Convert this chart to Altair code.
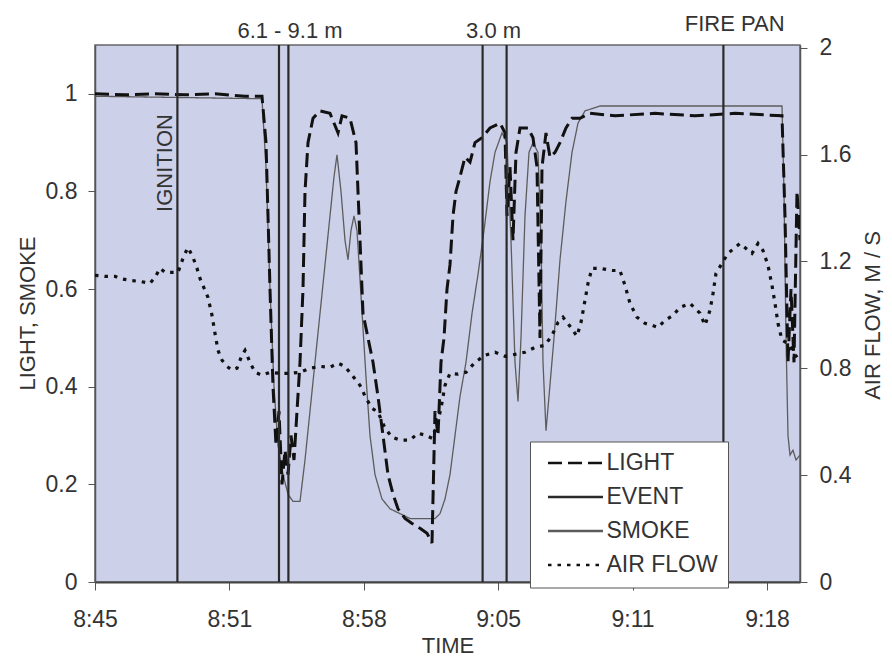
import json
import pandas as pd
import altair as alt

FONT = "Liberation Sans"
TXT = "#333333"

# ---- axis ticks (minutes after 8:45) ----
tick_labels = ["8:45", "8:51", "8:58", "9:05", "9:11", "9:18"]
tick_step = 6.72
x_max = 35.25

series_names = ["LIGHT", "EVENT", "SMOKE", "AIR FLOW"]

# ---- LIGHT (left axis) ----
light_min = [0, 1.5, 3.0, 4.5, 6.0, 7.5, 8.35, 8.55, 8.75, 8.9, 9.05, 9.2, 9.35, 9.5, 9.65,
             9.8, 9.95, 10.1, 10.25, 10.4, 10.5, 10.65, 10.9, 11.25, 11.75, 12.15, 12.35,
             12.75, 13.05, 13.25, 13.4, 13.65, 13.9, 14.15, 14.4, 14.65, 14.9, 15.15, 15.5,
             15.85, 16.25, 16.6, 16.85, 17.0, 17.15, 17.3, 17.45, 17.6, 17.75, 17.9, 18.05,
             18.25, 18.5, 18.75, 19.0, 19.35, 19.75, 20.25, 20.5, 20.6, 20.75, 20.9, 21.05,
             21.25, 21.65, 21.9, 22.1, 22.25, 22.35, 22.55, 22.75, 23.0, 23.25, 23.55, 23.85,
             24.25, 24.75, 26.0, 28.0, 30.0, 32.0, 34.35, 34.5, 34.65, 34.8, 34.95, 35.1, 35.25]
light_val = [1.0, 0.998, 1.0, 0.998, 1.0, 0.995, 0.995, 0.9, 0.6, 0.4, 0.28, 0.35, 0.2, 0.27, 0.22,
             0.3, 0.25, 0.35, 0.45, 0.6, 0.8, 0.9, 0.95, 0.965, 0.96, 0.92, 0.955,
             0.95, 0.9, 0.7, 0.55, 0.5, 0.45, 0.38, 0.3, 0.22, 0.18, 0.15, 0.13,
             0.12, 0.11, 0.1, 0.08, 0.35, 0.3, 0.45, 0.5, 0.6, 0.65, 0.75, 0.8,
             0.83, 0.87, 0.86, 0.9, 0.91, 0.93, 0.94, 0.92, 0.75, 0.85, 0.7, 0.88,
             0.93, 0.93, 0.91, 0.85, 0.5, 0.85, 0.92, 0.87, 0.88, 0.9, 0.93, 0.95,
             0.95, 0.96, 0.955, 0.96, 0.955, 0.96, 0.955, 0.75, 0.45, 0.6, 0.45, 0.8, 0.7]

# ---- SMOKE (left axis) ----
smoke_min = [0, 8.35, 8.55, 8.75, 8.95, 9.15, 9.4, 9.65, 9.9, 10.25, 10.5, 10.75, 11.0, 11.25,
             11.5, 11.75, 11.95, 12.1, 12.3, 12.5, 12.65, 12.8, 12.95, 13.1, 13.25, 13.4, 13.55,
             13.75, 14.0, 14.35, 14.75, 15.25, 15.75, 16.25, 17.0, 17.25, 17.5, 17.75, 18.0,
             18.25, 18.55, 18.85, 19.15, 19.45, 19.75, 20.0, 20.35, 20.6, 20.8, 21.0, 21.15,
             21.3, 21.5, 21.7, 21.9, 22.15, 22.3, 22.4, 22.55, 22.7, 22.95, 23.25, 23.55, 23.85,
             24.15, 24.5, 25.25, 27.75, 30.25, 32.75, 34.35, 34.45, 34.55, 34.65, 34.75, 34.9,
             35.05, 35.25]
smoke_val = [0.995, 0.99, 0.85, 0.6, 0.4, 0.28, 0.22, 0.18, 0.165, 0.165, 0.25, 0.35, 0.45, 0.55,
             0.65, 0.75, 0.83, 0.875, 0.8, 0.7, 0.66, 0.72, 0.75, 0.72, 0.62, 0.52, 0.42,
             0.3, 0.22, 0.17, 0.15, 0.14, 0.13, 0.13, 0.13, 0.14, 0.17, 0.22, 0.3,
             0.38, 0.45, 0.55, 0.63, 0.72, 0.82, 0.88, 0.92, 0.9, 0.7, 0.45, 0.37,
             0.5, 0.75, 0.88, 0.9, 0.88, 0.7, 0.45, 0.31, 0.38, 0.5, 0.66, 0.78, 0.88,
             0.94, 0.965, 0.975, 0.975, 0.975, 0.975, 0.975, 0.8, 0.5, 0.3, 0.26, 0.27,
             0.25, 0.26]

# ---- AIR FLOW (right axis, m/s) ----
air_min = [0, 0.5, 1.0, 1.25, 1.75, 2.25, 2.75, 3.0, 3.25, 3.5, 4.15, 4.45, 4.65, 4.9, 5.1, 5.25,
           5.5, 5.65, 5.85, 6.0, 6.15, 6.35, 6.6, 6.85, 7.1, 7.35, 7.5, 7.75, 8.0, 8.35, 8.75,
           9.25, 9.75, 10.25, 10.75, 11.25, 11.75, 12.15, 12.5, 12.85, 13.25, 13.55, 13.85,
           14.15, 14.5, 14.85, 15.25, 15.75, 16.15, 16.5, 16.85, 17.1, 17.3, 17.5, 17.75,
           18.15, 18.55, 19.0, 19.5, 20.0, 20.5, 21.0, 21.5, 22.0, 22.5, 22.85, 23.15, 23.4,
           23.75, 24.1, 24.3, 24.5, 24.65, 24.85, 25.25, 25.85, 26.25, 26.5, 26.75, 27.1, 27.5,
           27.85, 28.15, 28.5, 28.9, 29.25, 29.75, 30.25, 30.5, 30.75, 30.9, 31.05, 31.65,
           32.25, 32.85, 33.15, 33.4, 33.65, 33.85, 34.0, 34.15, 34.35, 34.65, 35.1]
air_val = [1.148, 1.144, 1.144, 1.136, 1.129, 1.125, 1.118, 1.14, 1.174, 1.159, 1.159, 1.222,
           1.252, 1.215, 1.174, 1.136, 1.092, 1.065, 0.998, 0.931, 0.867, 0.83, 0.807, 0.793,
           0.8, 0.849, 0.867, 0.822, 0.785, 0.774, 0.785, 0.781, 0.781, 0.785, 0.8, 0.807,
           0.804, 0.819, 0.807, 0.774, 0.736, 0.688, 0.65, 0.636, 0.576, 0.542, 0.531, 0.531,
           0.557, 0.55, 0.538, 0.587, 0.65, 0.736, 0.781, 0.778, 0.785, 0.822, 0.849, 0.86,
           0.845, 0.852, 0.86, 0.878, 0.886, 0.923, 0.972, 0.991, 0.957, 0.92, 0.972, 1.054,
           1.118, 1.174, 1.174, 1.166, 1.166, 1.11, 1.043, 0.991, 0.968, 0.961, 0.953, 0.979,
           0.998, 1.028, 1.043, 1.006, 0.961, 1.017, 1.08, 1.155, 1.23, 1.267, 1.23, 1.267,
           1.241, 1.185, 1.11, 1.043, 0.968, 0.905, 0.893, 0.841]

# ---- EVENT markers (minutes) ----
event_min = [4.12, 9.2, 9.67, 19.38, 20.58, 31.42]

# ---- annotations ----
top_labels = ["6.1 - 9.1 m", "3.0 m"]
top_label_min = [9.75, 19.93]
firepan_labels = ["FIRE PAN"]
firepan_min = [31.98]
ignition_labels = ["IGNITION"]
ignition_min = [3.5]

light_df = pd.DataFrame({"minute": light_min, "value": light_val, "series": "LIGHT"})
smoke_df = pd.DataFrame({"minute": smoke_min, "value": smoke_val, "series": "SMOKE"})
air_df = pd.DataFrame({"minute": air_min, "value": air_val, "series": "AIR FLOW"})
event_df = pd.DataFrame({"minute": event_min, "series": "EVENT"})
top_df = pd.DataFrame({"minute": top_label_min, "label": top_labels})
fire_df = pd.DataFrame({"minute": firepan_min, "label": firepan_labels})
ign_df = pd.DataFrame({"minute": ignition_min, "label": ignition_labels})

color_scale = alt.Scale(domain=series_names, range=["#111111", "#2a2a2a", "#5c5c5c", "#111111"])
dash_scale = alt.Scale(domain=series_names, range=[[14, 6], [1, 0], [1, 0], [3.5, 6]])

leg = alt.Legend(
    title=None, orient="none", legendX=435, legendY=396.5,
    fillColor="white", strokeColor="#555555", padding=10, rowPadding=10,
    symbolType="M0,0H6", symbolSize=336, symbolOffset=-3.5, symbolStrokeWidth=2.5,
    labelOffset=47, labelFont=FONT, labelFontSize=23, labelColor=TXT, labelLimit=0,
)

x_axis = alt.Axis(
    values=[round(i * tick_step, 2) for i in range(len(tick_labels))],
    labelExpr=f"{json.dumps(tick_labels)}[round(datum.value / {tick_step})]",
    title="TIME", titleX=352.5, titleY=70, titleBaseline="alphabetic", titleAlign="center",
    tickSize=8, labelPadding=18, domainColor="#444444", domainWidth=2, labelFlush=False,
)
X = alt.X("minute:Q", scale=alt.Scale(domain=[0, x_max], nice=False, zero=False), axis=x_axis)

left_axis = alt.Axis(
    values=[0, 0.2, 0.4, 0.6, 0.8, 1.0], format="~g", title="LIGHT, SMOKE",
    titleX=-67.5, titleY=268, titleAngle=270, titleAlign="center", titleBaseline="middle",
    tickSize=7, labelPadding=11, domainWidth=1.5, labelFlush=False,
)
right_axis = alt.Axis(
    orient="right", values=[0, 0.4, 0.8, 1.2, 1.6, 2.0], format="~g", title="AIR FLOW, M / S",
    titleX=72, titleY=270, titleAngle=270, titleAlign="center", titleBaseline="middle",
    tickSize=7, labelPadding=12, domainWidth=1.5, labelFlush=False,
)

Y_left = alt.Y("value:Q", scale=alt.Scale(domain=[0, 1.1], nice=False, zero=True), axis=left_axis)
C = alt.Color("series:N", scale=color_scale, legend=leg)
D = alt.StrokeDash("series:N", scale=dash_scale, legend=leg)

smoke_layer = alt.Chart(smoke_df).mark_line(strokeWidth=1.3, clip=True).encode(x=X, y=Y_left, color=C, strokeDash=D)
light_layer = alt.Chart(light_df).mark_line(strokeWidth=3, clip=True).encode(x=X, y=Y_left, color=C, strokeDash=D)
event_layer = alt.Chart(event_df).mark_rule(strokeWidth=2.2).encode(x=X, color=C, strokeDash=D)

txt = dict(font=FONT, fontSize=22, color=TXT, align="center", baseline="middle")
top_text = alt.Chart(top_df).mark_text(**txt).encode(x=X, y=alt.value(-14), text="label:N")
fire_text = alt.Chart(fire_df).mark_text(**txt).encode(x=X, y=alt.value(-21), text="label:N")
ign_text = alt.Chart(ign_df).mark_text(angle=270, **txt).encode(x=X, y=alt.value(118), text="label:N")

left = alt.layer(smoke_layer, light_layer, event_layer, top_text, fire_text, ign_text)

air_layer = alt.Chart(air_df).mark_line(strokeWidth=3.2, clip=True).encode(
    x=X,
    y=alt.Y("value:Q", scale=alt.Scale(domain=[0, 2.01], nice=False, zero=True), axis=right_axis),
    color=C, strokeDash=D,
)

chart = (
    alt.layer(left, air_layer)
    .resolve_scale(y="independent")
    .properties(
        width=705, height=537,
        padding={"left": 87, "top": 37, "right": 84, "bottom": 80},
        autosize=alt.AutoSizeParams(type="none"),
        background="white",
    )
    .configure_view(fill="#cdd0e9", stroke="#666666", strokeWidth=1.5)
    .configure_axis(
        labelFont=FONT, labelFontSize=23, labelColor=TXT,
        titleFont=FONT, titleFontSize=22, titleFontWeight="normal", titleColor=TXT,
        grid=False, domainColor="#555555", tickColor="#555555",
    )
)

chart.save("out.html", embed_options={"renderer": "svg", "actions": False})
